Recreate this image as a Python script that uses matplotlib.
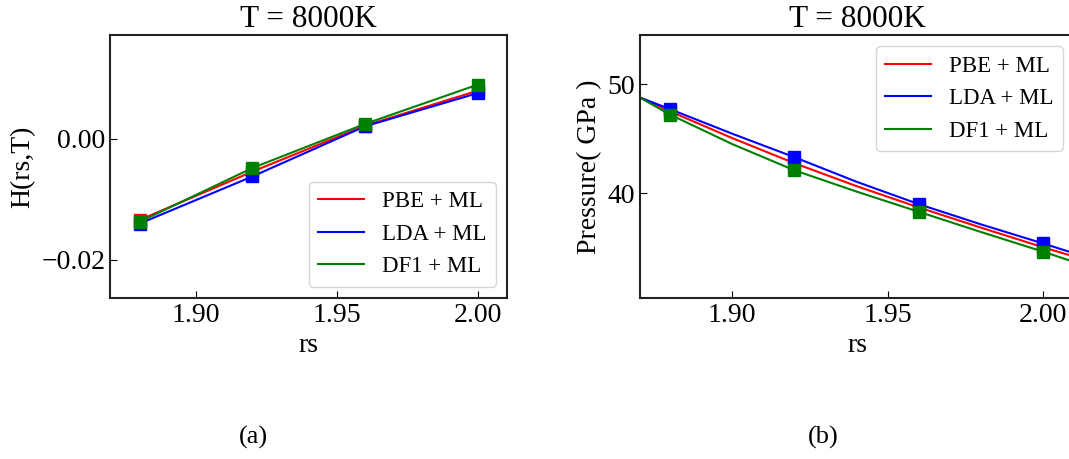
import matplotlib
matplotlib.use("Agg")
import matplotlib.pyplot as plt

plt.rcParams['font.family'] = ['Liberation Serif', 'DejaVu Serif']
plt.rcParams['xtick.direction'] = 'in'
plt.rcParams['ytick.direction'] = 'in'

# valores
rs = [1.88, 1.92, 1.96, 2.00]
labels = ["PBE + ML", "LDA + ML", "DF1 + ML"]
cores = ["red", "blue", "green"]

# (a) H(rs,T)
h_pbe = [-0.0134, -0.0054, 0.0022, 0.0080]
h_lda = [-0.0140, -0.0062, 0.0021, 0.0076]
h_df1 = [-0.0137, -0.0048, 0.0025, 0.0090]

# (b) pressao nos pontos
p_pbe = [47.5, 42.75, 38.7, 35.05]
p_lda = [47.7, 43.3, 39.0, 35.4]
p_df1 = [47.2, 42.1, 38.3, 34.65]

# (b) curvas ajustadas
rs_curva = [1.87, 1.88, 1.90, 1.92, 1.94, 1.96, 1.98, 2.00, 2.01]
c_pbe = [48.8, 47.5, 45.05, 42.75, 40.65, 38.7, 36.85, 35.05, 34.2]
c_lda = [48.8, 47.7, 45.45, 43.3, 41.05, 39.0, 37.15, 35.4, 34.5]
c_df1 = [48.8, 47.2, 44.5, 42.1, 40.15, 38.3, 36.45, 34.65, 33.7]

fig = plt.figure(figsize=(10.69, 4.59), dpi=100)
ax1 = fig.add_axes([0.1029, 0.3508, 0.3714, 0.573])
ax2 = fig.add_axes([0.5987, 0.3508, 0.406, 0.573])

# linhas com legenda, marcadores separados (legenda so com linhas)
for h, c, lab in zip([h_pbe, h_lda, h_df1], cores, labels):
    ax1.plot(rs, h, color=c, lw=1.5, label=lab)
for h, c in zip([h_pbe, h_lda, h_df1], cores):
    ax1.plot(rs, h, color=c, ls='none', marker='s', markersize=8.5)

for pc, c, lab in zip([c_pbe, c_lda, c_df1], cores, labels):
    ax2.plot(rs_curva, pc, color=c, lw=1.5, label=lab)
for p, c in zip([p_pbe, p_lda, p_df1], cores):
    ax2.plot(rs, p, color=c, ls='none', marker='s', markersize=8.5)

ax1.set_xlim(1.8695, 2.0103)
ax1.set_ylim(-0.0263, 0.0172)
ax1.set_xticks([1.90, 1.95, 2.00])
ax1.set_yticks([-0.02, 0.00])
ax1.set_xlabel("rs", fontsize=20)
ax1.set_ylabel("H(rs,T)", fontsize=20)
ax1.set_title("T = 8000K", fontsize=22.5)
ax1.legend(loc='lower right', fontsize=16.5)

ax2.set_xlim(1.8703, 2.01)
ax2.set_ylim(30.4, 54.5)
ax2.set_xticks([1.90, 1.95, 2.00])
ax2.set_yticks([40, 50])
ax2.set_xlabel("rs", fontsize=20)
ax2.set_ylabel("Pressure( GPa )", fontsize=20)
ax2.set_title("T = 8000K", fontsize=22.5)
ax2.legend(loc='upper right', fontsize=16.5)

for ax in [ax1, ax2]:
    ax.tick_params(labelsize=20, length=5)
    for s in ax.spines.values():
        s.set_linewidth(1.5)
        s.set_color('#222222')

fig.text(0.2367, 0.048, "(a)", fontsize=19, ha='center', va='center')
fig.text(0.77, 0.048, "(b)", fontsize=19, ha='center', va='center')

fig.savefig("out.png", dpi=100)
